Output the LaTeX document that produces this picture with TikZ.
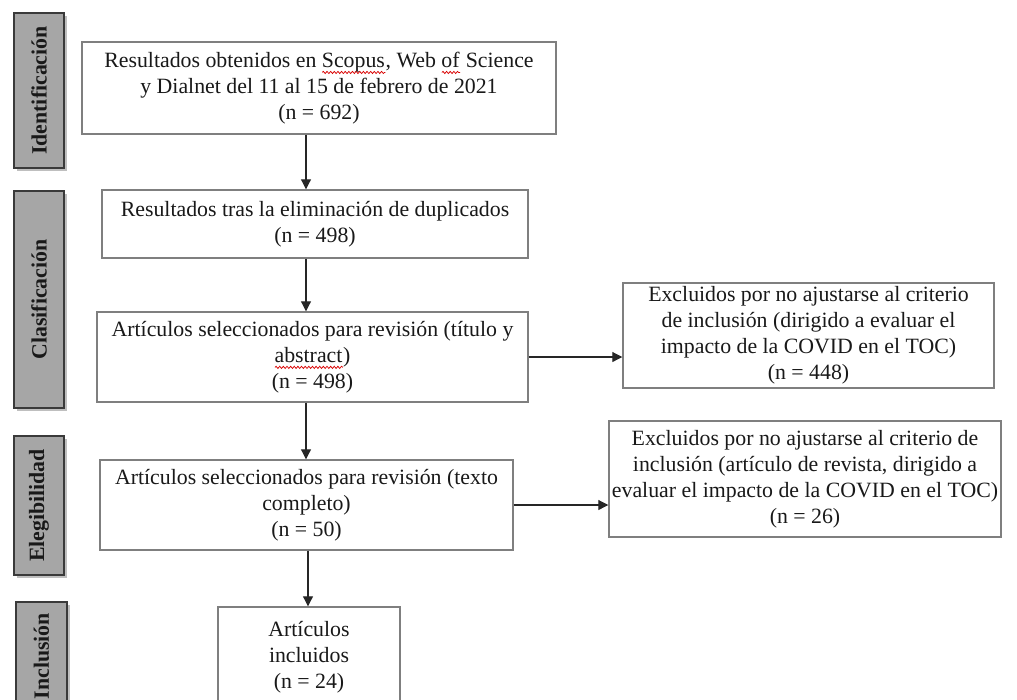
\documentclass[tikz,border=0pt]{standalone}
\usepackage{fontspec}
\setmainfont{Liberation Serif}
\usetikzlibrary{arrows.meta,shadows,decorations.pathmorphing}
\definecolor{boxgray}{HTML}{7F7F7F}
\definecolor{phasefill}{HTML}{A6A6A6}
\definecolor{phaseborder}{HTML}{3A3A3A}
\newlength\spellwl
\newcommand\spellwave[1]{\settowidth\spellwl{#1}\rlap{#1}\tikz[baseline=0pt,x=1pt,y=1pt]{\path (0,0) (\spellwl,0);\draw[red!85!black,line width=0.4pt,decorate,decoration={snake,amplitude=0.6pt,segment length=2pt}] (0pt,-2.8pt) -- (\spellwl,-2.8pt);}}
\begin{document}
\begin{tikzpicture}[x=0.55pt,y=-0.55pt,
  box/.style={draw=boxgray, line width=0.8pt, fill=white, align=center, inner sep=0pt,
    font=\fontsize{12}{14.3}\selectfont, text=black!90},
  phase/.style={draw=phaseborder, line width=1.1pt, fill=phasefill, inner sep=0pt,
    font=\bfseries\fontsize{12}{14}\selectfont, text=black!90,
    drop shadow={shadow xshift=1.6pt, shadow yshift=-1.6pt, opacity=0.25, fill=black}},
  arr/.style={draw=black!85, line width=0.6pt, -{Triangle[length=5.5pt,width=5.5pt]}}]
\clip (0,0) rectangle (1017,699);
\fill[white] (0,0) rectangle (1017,699);

% phase labels
\node[phase, minimum width=50*0.55pt, minimum height=155*0.55pt] (p1) at (39,90.5) {\rotatebox{90}{Identificación}};
\node[phase, minimum width=50*0.55pt, minimum height=217*0.55pt] (p2) at (39,299.5) {\rotatebox{90}{Clasificación}};
\node[phase, minimum width=50*0.55pt, minimum height=139*0.55pt] (p3) at (39,505.5) {\rotatebox{90}{Elegibilidad}};
\node[phase, minimum width=51*0.55pt, minimum height=108*0.55pt] (p4) at (41.5,656) {\rotatebox{90}{Inclusión}};

% main boxes
\node[box, minimum width=474*0.55pt, minimum height=92*0.55pt] (b1) at (319,88)
  {Resultados obtenidos en \spellwave{Scopus}, Web \spellwave{of} Science\\y Dialnet del 11 al 15 de febrero de 2021\\(n = 692)};
\node[box, minimum width=426*0.55pt, minimum height=68*0.55pt] (b2) at (315,224)
  {Resultados tras la eliminación de duplicados\\(n = 498)};
\node[box, minimum width=431*0.55pt, minimum height=90*0.55pt] (b3) at (312.5,357)
  {Artículos seleccionados para revisión (título y\\\spellwave{abstract})\\(n = 498)};
\node[box, minimum width=413*0.55pt, minimum height=90*0.55pt] (b4) at (306.5,505)
  {Artículos seleccionados para revisión (texto\\completo)\\(n = 50)};
\node[box, minimum width=182*0.55pt, minimum height=100*0.55pt] (b5) at (309,657)
  {Artículos\\incluidos\\(n = 24)};

\node[box, minimum width=371*0.55pt, minimum height=105*0.55pt] (r1) at (808.5,335.5)
  {Excluidos por no ajustarse al criterio\\de inclusión (dirigido a evaluar el\\impacto de la COVID en el TOC)\\(n = 448)};
\node[box, minimum width=392*0.55pt, minimum height=116*0.55pt] (r2) at (805,479)
  {Excluidos por no ajustarse al criterio de\\inclusión (artículo de revista, dirigido a\\evaluar el impacto de la COVID en el TOC)\\(n = 26)};

% connectors
\coordinate (c1) at (306,0);
\coordinate (c2) at (308,0);
\draw[arr] (c1 |- b1.south) -- (c1 |- b2.north);
\draw[arr] (c1 |- b2.south) -- (c1 |- b3.north);
\draw[arr] (c1 |- b3.south) -- (c1 |- b4.north);
\draw[arr] (c2 |- b4.south) -- (c2 |- b5.north);
\draw[arr] (b3.east) -- (r1.west |- b3.east);
\draw[arr] (b4.east) -- (r2.west |- b4.east);
\end{tikzpicture}
\end{document}
